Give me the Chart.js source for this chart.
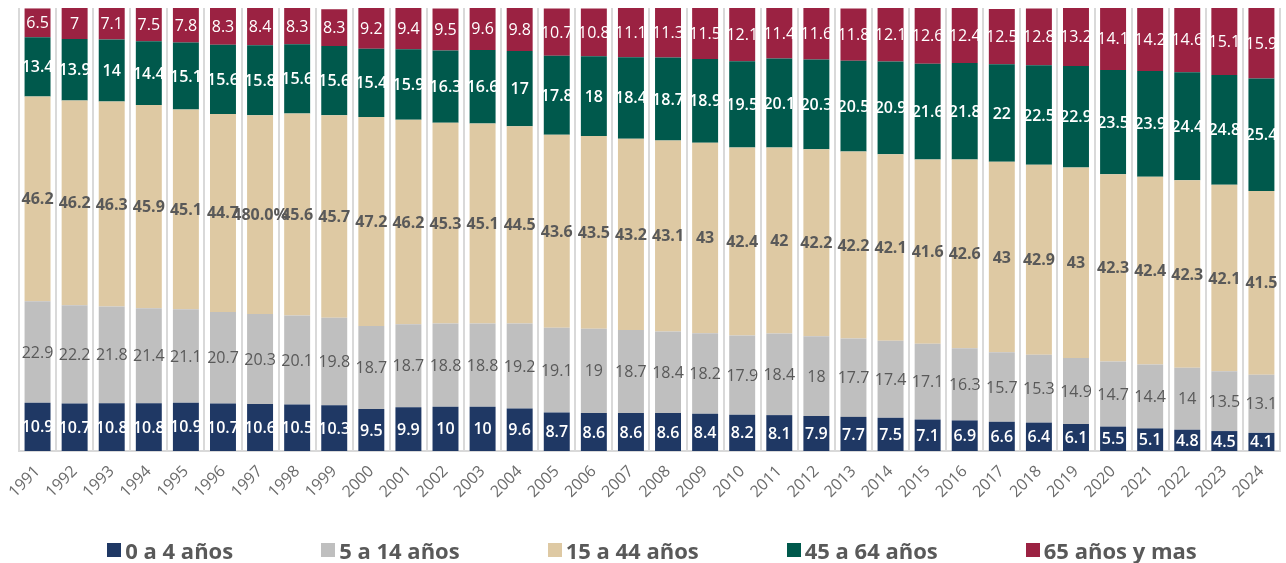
<!DOCTYPE html>
<html>
<head>
<meta charset="utf-8">
<script src="https://cdn.jsdelivr.net/npm/chart.js@4/dist/chart.umd.min.js"></script>
<style>
  html, body { margin: 0; padding: 0; background: #fff; }
  #wrap { position: relative; width: 1286px; height: 563px; }
  #legend {
    position: absolute; left: 0; top: 538px; width: 1286px;
    box-sizing: border-box; padding-left: 18px;
    display: flex; justify-content: center; gap: 88px;
    font: bold 22px "Open Sans", sans-serif; color: #595959;
    line-height: 24px;
  }
  .item { display: flex; align-items: center; white-space: nowrap; }
  .box { width: 14px; height: 14px; margin-right: 4px; }
</style>
</head>
<body>
<div id="wrap">
  <canvas id="chart" width="1286" height="563"></canvas>
  <div id="legend"></div>
</div>
<script>
// === Data ===
const years = ['1991','1992','1993','1994','1995','1996','1997','1998','1999','2000',
  '2001','2002','2003','2004','2005','2006','2007','2008','2009','2010',
  '2011','2012','2013','2014','2015','2016','2017','2018','2019','2020',
  '2021','2022','2023','2024'];

const age0to4 = [10.9,10.7,10.8,10.8,10.9,10.7,10.6,10.5,10.3,9.5,
  9.9,10,10,9.6,8.7,8.6,8.6,8.6,8.4,8.2,
  8.1,7.9,7.7,7.5,7.1,6.9,6.6,6.4,6.1,5.5,
  5.1,4.8,4.5,4.1];

const age5to14 = [22.9,22.2,21.8,21.4,21.1,20.7,20.3,20.1,19.8,18.7,
  18.7,18.8,18.8,19.2,19.1,19,18.7,18.4,18.2,17.9,
  18.4,18,17.7,17.4,17.1,16.3,15.7,15.3,14.9,14.7,
  14.4,14,13.5,13.1];

const age15to44 = [46.2,46.2,46.3,45.9,45.1,44.7,44.9,45.6,45.7,47.2,
  46.2,45.3,45.1,44.5,43.6,43.5,43.2,43.1,43,42.4,
  42,42.2,42.2,42.1,41.6,42.6,43,42.9,43,42.3,
  42.4,42.3,42.1,41.5];

// the 1997 label in the source reads oddly; keep it as shown
const age15to44Text = { 6: '480.0%' };

const age45to64 = [13.4,13.9,14,14.4,15.1,15.6,15.8,15.6,15.6,15.4,
  15.9,16.3,16.6,17,17.8,18,18.4,18.7,18.9,19.5,
  20.1,20.3,20.5,20.9,21.6,21.8,22,22.5,22.9,23.5,
  23.9,24.4,24.8,25.4];

const age65plus = [6.5,7,7.1,7.5,7.8,8.3,8.4,8.3,8.3,9.2,
  9.4,9.5,9.6,9.8,10.7,10.8,11.1,11.3,11.5,12.1,
  11.4,11.6,11.8,12.1,12.6,12.4,12.5,12.8,13.2,14.1,
  14.2,14.6,15.1,15.9];

// === Segment labels (no datalabels plugin available) ===
const segmentLabels = {
  id: 'segmentLabels',
  afterDatasetsDraw(chart) {
    const ctx = chart.ctx;
    chart.data.datasets.forEach((ds, di) => {
      const meta = chart.getDatasetMeta(di);
      if (meta.hidden) return;
      meta.data.forEach((bar, i) => {
        const { x, y, base } = bar.getProps(['x', 'y', 'base'], true);
        const text = (ds.shownText && ds.shownText[i]) || String(ds.data[i]);
        ctx.save();
        ctx.font = `${ds.labelWeight} 16px "Open Sans", sans-serif`;
        ctx.fillStyle = ds.labelColor;
        ctx.textAlign = 'center';
        ctx.textBaseline = 'middle';
        ctx.fillText(text, x, (y + base) / 2 + 1);
        ctx.restore();
      });
    });
  }
};

function series(label, data, color, labelColor, labelWeight, shownText) {
  return {
    label, data,
    backgroundColor: color,
    labelColor, labelWeight, shownText,
    borderWidth: 0,
    barPercentage: 0.7,
    categoryPercentage: 1
  };
}

const chart = new Chart(document.getElementById('chart'), {
  type: 'bar',
  data: {
    labels: years,
    datasets: [
      series('0 a 4 años', age0to4, '#1F3864', '#ffffff', '600'),
      series('5 a 14 años', age5to14, '#BFBFBF', '#595959', 'normal'),
      series('15 a 44 años', age15to44, '#DEC9A3', '#595959', 'bold', age15to44Text),
      series('45 a 64 años', age45to64, '#00594C', '#ffffff', '600'),
      series('65 años y mas', age65plus, '#9B2242', '#ffffff', 'normal')
    ]
  },
  options: {
    responsive: false,
    animation: false,
    layout: { padding: { top: 8, left: 19, right: 0, bottom: 0 } },
    plugins: {
      legend: { display: false },
      tooltip: { enabled: false }
    },
    scales: {
      x: {
        stacked: true,
        offset: true,
        grid: { offset: true, color: '#D9D9D9', lineWidth: 2, drawTicks: false },
        border: { color: '#D9D9D9', width: 2 },
        ticks: {
          color: '#6b6b6b',
          font: { family: 'Open Sans', size: 16 },
          minRotation: 45,
          maxRotation: 45,
          padding: 11,
          autoSkip: false
        },
        afterFit(scale) { scale.height = 112; }
      },
      y: {
        stacked: true,
        display: false,
        min: 0,
        max: 100
      }
    }
  },
  plugins: [segmentLabels]
});

// === HTML legend ===
const legendEl = document.getElementById('legend');
chart.data.datasets.forEach(ds => {
  const item = document.createElement('div');
  item.className = 'item';
  const box = document.createElement('span');
  box.className = 'box';
  box.style.background = ds.backgroundColor;
  const txt = document.createElement('span');
  txt.textContent = ds.label;
  item.appendChild(box);
  item.appendChild(txt);
  legendEl.appendChild(item);
});
</script>
</body>
</html>
